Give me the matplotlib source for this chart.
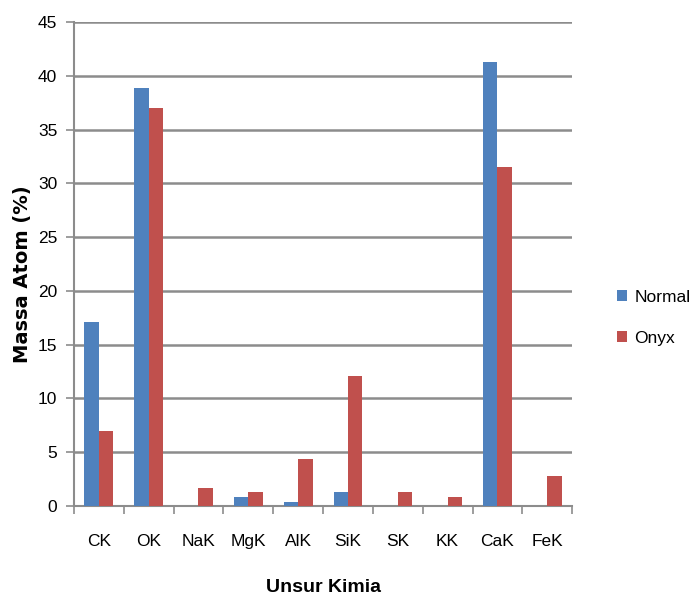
import numpy as np
import matplotlib
matplotlib.use('Agg')
import matplotlib.pyplot as plt
from matplotlib import font_manager as fm

# 字体：优先使用窄体
names = {f.name for f in fm.fontManager.ttflist}
font_list = [n for n in ['Liberation Sans Narrow', 'Liberation Sans', 'DejaVu Sans'] if n in names]
plt.rcParams['font.family'] = font_list

# 数据
unsur = ['CK', 'OK', 'NaK', 'MgK', 'AlK', 'SiK', 'SK', 'KK', 'CaK', 'FeK']
normal = [17.1, 38.9, 0.0, 0.8, 0.4, 1.35, 0.0, 0.0, 41.3, 0.0]
onyx = [7.0, 37.0, 1.7, 1.35, 4.4, 12.05, 1.35, 0.8, 31.5, 2.8]
y_ticks = [0, 5, 10, 15, 20, 25, 30, 35, 40, 45]

fig = plt.figure(figsize=(6.91, 6.05), dpi=100)
ax = fig.add_axes([0.107, 0.1636, 0.721, 0.80])

x = np.arange(len(unsur))
w = 0.29
ax.bar(x - w / 2, normal, w, color='#4F81BD', label='Normal', zorder=3)
ax.bar(x + w / 2, onyx, w, color='#C0504D', label='Onyx', zorder=3)

ax.set_xlim(-0.5, len(unsur) - 0.5)
ax.set_ylim(0, 45)
ax.set_yticks(y_ticks)
ax.set_yticklabels([str(v) for v in y_ticks], fontsize=12.5)
ax.yaxis.grid(True, color='#8c8c8c', linewidth=1.8, zorder=0)

# 类别刻度在分组边界处
ax.set_xticks(np.arange(len(unsur) + 1) - 0.5)
ax.set_xticklabels([])
ax.set_xticks(x, minor=True)
ax.set_xticklabels(unsur, minor=True, fontsize=12.5)
ax.tick_params(axis='x', which='major', length=6, width=1.2, color='#8c8c8c', direction='out')
ax.tick_params(axis='x', which='minor', length=0, pad=20)
ax.tick_params(axis='y', length=6, width=1.2, color='#8c8c8c', direction='out', pad=6)

for s in ['top', 'right']:
    ax.spines[s].set_visible(False)
for s in ['left', 'bottom']:
    ax.spines[s].set_color('#8c8c8c')
    ax.spines[s].set_linewidth(1.5)

ax.set_ylabel('Massa Atom (%)', fontsize=14, fontweight='bold', family='DejaVu Sans', labelpad=8)
ax.set_xlabel('Unsur Kimia', fontsize=14, fontweight='bold', labelpad=22)
ax.yaxis.set_label_coords(-0.085, 0.48)

fig.legend(loc='center left', bbox_to_anchor=(0.87, 0.475), frameon=False, fontsize=12.5,
           handlelength=0.6, handleheight=0.6, handletextpad=0.4, labelspacing=1.5)

fig.savefig('out.png', dpi=100)
